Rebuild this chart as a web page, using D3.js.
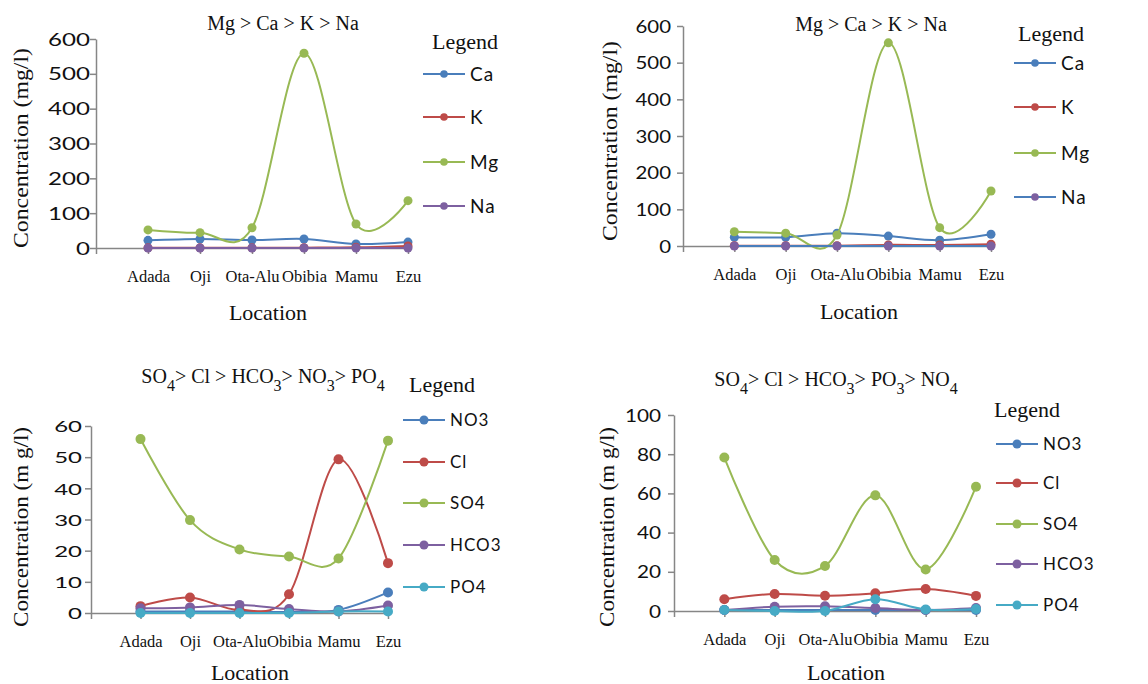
<!DOCTYPE html>

<head>
<meta charset="utf-8">
<title>Ion concentrations by location</title>
<script type="text/javascript" src="https://d3js.org/d3.v7.min.js"></script>
<style>
body { margin: 0; background: #fff; }
</style>
</head>

<body>
<div id="container"></div>
<script>
//-----------------------------DATA-----------------------------//
const locations = ["Adada", "Oji", "Ota-Alu", "Obibia", "Mamu", "Ezu"];
const cationNames = ["Ca", "K", "Mg", "Na"];
const anionNames = ["NO3", "Cl", "SO4", "HCO3", "PO4"];

// top left
const caA = [22, 26, 23, 26, 11.5, 17];
const kA  = [0.5, 0.5, 0.5, 1, 2, 6];
const mgA = [52, 44, 58, 559, 69, 136];
const naA = [0, 0, 0, 0, 0, 0];
// top right
const caB = [24, 24, 35, 27, 16, 32];
const kB  = [1, 1, 1, 3, 3, 5];
const mgB = [39, 35, 30, 554, 50, 150];
const naB = [0, 0, 0, 0, 0, 0];
// bottom left
const no3C  = [0.5, 0.5, 0.5, 0.3, 1, 6.6];
const clC   = [2.2, 5, 1, 6, 49.3, 16];
const so4C  = [55.8, 29.8, 20.4, 18.1, 17.5, 55.3];
const hco3C = [1.5, 1.8, 2.6, 1.3, 0.5, 2.4];
const po4C  = [0, 0, 0, 0, 0.5, 0.5];
// bottom right
const no3D  = [0.5, 0.5, 0.5, 0.5, 0.5, 0.5];
const clD   = [6, 8.7, 7.8, 9, 11.2, 7.7];
const so4D  = [78.3, 26, 23, 59, 21.2, 63.4];
const hco3D = [0.5, 2.2, 2.4, 1.5, 0.5, 1.5];
const po4D  = [0.5, 0, 0, 6, 0.8, 1];

const ticksTop = [0, 100, 200, 300, 400, 500, 600];
const ticksC = [0, 10, 20, 30, 40, 50, 60];
const ticksD = [0, 20, 40, 60, 80, 100];

const titleTop = [["Mg > Ca > K > Na", ""]];
const titleC = [["SO", "4"], ["> Cl > HCO", "3"], ["> NO", "3"], ["> PO", "4"]];
const titleD = [["SO", "4"], ["> Cl > HCO", "3"], ["> PO", "3"], ["> NO", "4"]];
const ylabTop = "Concentration (mg/l)";
const ylabBottom = "Concentration (m g/l)";
const xlab = "Location";

//----------------------------STYLE-----------------------------//
const colors = {
  Ca: "#4A7EBB", K: "#BE4B48", Mg: "#98B954", Na: "#7D60A0",
  NO3: "#4A7EBB", Cl: "#BE4B48", SO4: "#98B954", HCO3: "#7D60A0", PO4: "#46AAC5"
};
const axisColor = "#868686";
const serif = "'Liberation Serif', 'Times New Roman', serif";
const sans = "Lato, 'Open Sans', sans-serif";

const svg = d3.select("div#container").append("svg")
    .attr("width", 1148)
    .attr("height", 684);

const panels = [
  { names: cationNames, values: [caA, kA, mgA, naA], ticks: ticksTop,
    title: titleTop, ylab: ylabTop, lineColor: {},
    axisX: 96, lastX: 408, y0: 248, yTop: 39,
    tickFont: 17, tickScale: 1.42, tickGap: 6, r: 4.5,
    titleX: 283, titleY: 30, locX: 268, locY: 320, ylabX: 28, ylabY: 148,
    legX: 423, legTitleX: 465, legTitleY: 49, legRows: [74, 117, 162, 206],
    legFont: 19, legR: 3.8 },
  { names: cationNames, values: [caB, kB, mgB, naB], ticks: ticksTop,
    title: titleTop, ylab: ylabTop, lineColor: { Na: "#4A7EBB" },
    axisX: 683, lastX: 991, y0: 246, yTop: 26,
    tickFont: 17, tickScale: 1.2, tickGap: 12, r: 4.5,
    titleX: 871, titleY: 31, locX: 859, locY: 319, ylabX: 617, ylabY: 141,
    legX: 1014, legTitleX: 1051, legTitleY: 41, legRows: [63, 107, 153, 197],
    legFont: 19, legR: 3.8 },
  { names: anionNames, values: [no3C, clC, so4C, hco3C, po4C], ticks: ticksC,
    title: titleC, ylab: ylabBottom, lineColor: {},
    axisX: 91, lastX: 388, y0: 613, yTop: 426,
    tickFont: 16, tickScale: 1.5, tickGap: 9, r: 5,
    titleX: 263, titleY: 383, locX: 250, locY: 680, ylabX: 28, ylabY: 527,
    legX: 403, legTitleX: 442, legTitleY: 392, legRows: [420, 462, 503, 545, 587],
    legFont: 17, legR: 4.5 },
  { names: anionNames, values: [no3D, clD, so4D, hco3D, po4D], ticks: ticksD,
    title: titleD, ylab: ylabBottom, lineColor: {},
    axisX: 674, lastX: 976, y0: 611, yTop: 415,
    tickFont: 17, tickScale: 1.22, tickGap: 13, r: 5,
    titleX: 836, titleY: 386, locX: 846, locY: 680, ylabX: 614, ylabY: 527,
    legX: 996, legTitleX: 1027, legTitleY: 417, legRows: [444, 483, 524, 564, 605],
    legFont: 17, legR: 4.5 }
];

//---------------------------DRAWING----------------------------//
function drawPanel(p) {
  const g = svg.append("g");

  // first slot of the category axis is empty (series start one step in)
  const x = d3.scalePoint().domain([""].concat(locations)).range([p.axisX, p.lastX]);
  const y = d3.scaleLinear().domain([0, d3.max(p.ticks)]).range([p.y0, p.yTop]);

  // y axis
  const ya = g.append("g")
      .attr("transform", "translate(" + p.axisX + ",0)")
      .call(d3.axisLeft(y).tickValues(p.ticks).tickSize(6).tickSizeOuter(0));
  ya.select(".domain").attr("stroke", axisColor).attr("stroke-width", 1.5);
  ya.selectAll(".tick line").attr("stroke", axisColor).attr("stroke-width", 1.5);
  ya.selectAll(".tick text")
      .attr("x", -p.tickGap / p.tickScale)
      .attr("dy", "0.36em")
      .attr("transform", "scale(" + p.tickScale + ",1)")
      .style("font-family", sans)
      .style("font-size", p.tickFont + "px")
      .attr("fill", "#111");

  // x axis
  const xa = g.append("g")
      .attr("transform", "translate(0," + p.y0 + ")")
      .call(d3.axisBottom(x).tickSize(6).tickSizeOuter(0));
  xa.select(".domain").attr("stroke", axisColor).attr("stroke-width", 1.5);
  xa.selectAll(".tick line").attr("stroke", axisColor).attr("stroke-width", 1.5);
  xa.selectAll(".tick text")
      .attr("y", 34)
      .attr("dy", 0)
      .style("font-family", serif)
      .style("font-size", "16.5px")
      .attr("fill", "#111");

  // series
  const line = d3.line()
      .x(function(d, i) { return x(locations[i]); })
      .y(function(d) { return y(d); })
      .curve(d3.curveCardinal.tension(0));

  p.names.forEach(function(name, k) {
    const vals = p.values[k];
    g.append("path")
        .attr("d", line(vals))
        .attr("fill", "none")
        .attr("stroke", p.lineColor[name] || colors[name])
        .attr("stroke-width", 2);
    g.selectAll(null)
        .data(vals)
        .enter()
        .append("circle")
        .attr("cx", function(d, i) { return x(locations[i]); })
        .attr("cy", function(d) { return y(d); })
        .attr("r", p.r)
        .attr("fill", colors[name]);
  });

  // title with subscripts
  const t = g.append("text")
      .attr("x", p.titleX)
      .attr("y", p.titleY)
      .attr("text-anchor", "middle")
      .style("font-family", serif)
      .style("font-size", "20px")
      .attr("fill", "#111");
  let lowered = false;
  p.title.forEach(function(piece) {
    t.append("tspan").attr("dy", lowered ? -8 : 0).text(piece[0]);
    lowered = false;
    if (piece[1]) {
      t.append("tspan").attr("dy", 8).style("font-size", "16px").text(piece[1]);
      lowered = true;
    }
  });

  // axis titles
  g.append("text")
      .attr("x", p.locX)
      .attr("y", p.locY)
      .attr("text-anchor", "middle")
      .style("font-family", serif)
      .style("font-size", "22px")
      .attr("fill", "#111")
      .text(xlab);

  g.append("text")
      .attr("transform", "translate(" + p.ylabX + "," + p.ylabY + ") rotate(-90)")
      .attr("text-anchor", "middle")
      .attr("textLength", 200)
      .attr("lengthAdjust", "spacingAndGlyphs")
      .style("font-family", serif)
      .style("font-size", "20px")
      .attr("fill", "#111")
      .text(p.ylab);

  // legend
  g.append("text")
      .attr("x", p.legTitleX)
      .attr("y", p.legTitleY)
      .attr("text-anchor", "middle")
      .style("font-family", serif)
      .style("font-size", "22px")
      .attr("fill", "#111")
      .text("Legend");

  p.names.forEach(function(name, k) {
    const ly = p.legRows[k];
    g.append("line")
        .attr("x1", p.legX).attr("x2", p.legX + 42)
        .attr("y1", ly).attr("y2", ly)
        .attr("stroke", p.lineColor[name] || colors[name])
        .attr("stroke-width", 2);
    g.append("circle")
        .attr("cx", p.legX + 21).attr("cy", ly)
        .attr("r", p.legR)
        .attr("fill", colors[name]);
    g.append("text")
        .attr("x", p.legX + 47)
        .attr("y", ly)
        .attr("dy", "0.36em")
        .style("font-family", sans)
        .style("font-size", p.legFont + "px")
        .style("letter-spacing", "1px")
        .attr("fill", "#111")
        .text(name);
  });
}

panels.forEach(drawPanel);
</script>
</body>
